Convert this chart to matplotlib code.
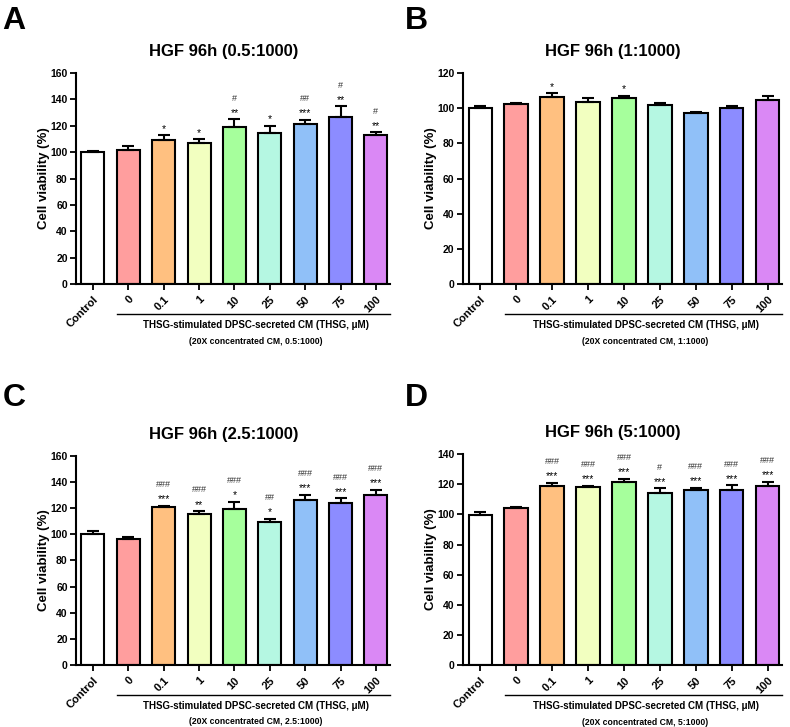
import matplotlib.pyplot as plt
import matplotlib.transforms as mtransforms

plt.rcParams['font.family'] = ['Liberation Sans', 'DejaVu Sans']
plt.rcParams['font.weight'] = 'bold'

groups = ['Control', '0', '0.1', '1', '10', '25', '50', '75', '100']
colors = ['#FFFFFF', '#FF9E9E', '#FFC080', '#F2FFC0', '#A6FF9C',
          '#B5F7E2', '#90C0F8', '#8C8CFF', '#DA88F5']

# panel A: 0.5:1000
mean_a = [100, 101.5, 109.5, 107.3, 119, 114.5, 121.6, 127, 112.7]
err_a = [1.0, 3.0, 3.2, 2.6, 6.0, 5.5, 3.0, 7.8, 2.3]
star_a = ['', '', '*', '*', '**', '*', '***', '**', '**']
hash_a = ['', '', '', '', '#', '', '##', '#', '#']

# panel B: 1:1000
mean_b = [100, 102.6, 106.7, 103.6, 106, 101.7, 97.3, 100.1, 104.8]
err_b = [1.1, 0.6, 1.8, 2.1, 1.2, 1.3, 0.7, 1.0, 2.4]
star_b = ['', '', '*', '', '*', '', '', '', '']
hash_b = ['', '', '', '', '', '', '', '', '']

# panel C: 2.5:1000
mean_c = [100.2, 96.2, 120.9, 115.5, 119.3, 109.2, 126.5, 123.7, 130]
err_c = [2.6, 1.8, 1.0, 2.3, 5.6, 2.8, 3.8, 3.8, 4.0]
star_c = ['', '', '***', '**', '*', '*', '***', '***', '***']
hash_c = ['', '', '###', '###', '###', '##', '###', '###', '###']

# panel D: 5:1000
mean_d = [99.8, 104.5, 119.1, 118, 121.6, 114, 116.3, 116.3, 118.7]
err_d = [1.8, 0.5, 2.0, 0.9, 2.2, 3.4, 1.5, 3.1, 2.9]
star_d = ['', '', '***', '***', '***', '***', '***', '***', '***']
hash_d = ['', '', '###', '###', '###', '#', '###', '###', '###']

panels = [
    ('A', 'HGF 96h (0.5:1000)', '0.5:1000', mean_a, err_a, star_a, hash_a, 160,
     [0.0962, 0.6094, 0.3975, 0.290], (0.003, 0.971)),
    ('B', 'HGF 96h (1:1000)', '1:1000', mean_b, err_b, star_b, hash_b, 120,
     [0.586, 0.6094, 0.404, 0.290], (0.512, 0.971)),
    ('C', 'HGF 96h (2.5:1000)', '2.5:1000', mean_c, err_c, star_c, hash_c, 160,
     [0.0962, 0.0853, 0.3975, 0.2875], (0.003, 0.4525)),
    ('D', 'HGF 96h (5:1000)', '5:1000', mean_d, err_d, star_d, hash_d, 140,
     [0.586, 0.0853, 0.404, 0.290], (0.512, 0.4525)),
]

fig = plt.figure(figsize=(7.9, 7.27), dpi=100)

for letter, title, ratio, mean, err, stars, hashes, ymax, pos, lpos in panels:
    ax = fig.add_axes(pos)
    x = list(range(len(groups)))
    ax.bar(x, mean, width=0.65, color=colors, edgecolor='black', linewidth=1.5, zorder=2)
    ax.errorbar(x, mean, yerr=[[0] * len(err), err], fmt='none', ecolor='black',
                elinewidth=1.5, capsize=4.5, capthick=1.5, zorder=3)
    for xi, m, e, s, h in zip(x, mean, err, stars, hashes):
        top = m + e
        if s:
            ax.annotate(s, (xi, top), xytext=(0, 1), textcoords='offset points',
                        ha='center', va='bottom', fontsize=7.5, fontweight='normal')
        if h:
            ax.annotate(h, (xi, top), xytext=(0, 12), textcoords='offset points',
                        ha='center', va='bottom', fontsize=6.5, fontweight='normal',
                        color='#333333')
    ax.set_xlim(-0.48, 8.4)
    ax.set_ylim(0, ymax)
    ax.set_yticks(range(0, ymax + 1, 20))
    ax.tick_params(axis='y', labelsize=7.5, width=1.3, length=4, pad=2)
    ax.tick_params(axis='x', labelsize=8, width=1.3, length=4)
    ax.set_xticks(x)
    ax.set_xticklabels(groups, rotation=45, ha='right', rotation_mode='anchor')
    for sp in ['top', 'right']:
        ax.spines[sp].set_visible(False)
    for sp in ['left', 'bottom']:
        ax.spines[sp].set_linewidth(1.5)
    ax.set_ylabel('Cell viability (%)', fontsize=9.5, fontweight='bold', labelpad=0)
    ax.set_title(title, fontsize=12, fontweight='bold', pad=12, x=0.47)

    trans = mtransforms.blended_transform_factory(ax.transData, ax.transAxes)
    ax.plot([0.68, 8.4], [-0.142, -0.142], color='black', lw=1.0,
            transform=trans, clip_on=False)
    ax.text(4.6, -0.195, 'THSG-stimulated DPSC-secreted CM (THSG, \u03bcM)',
            transform=trans, ha='center', va='center', fontsize=7, fontweight='bold')
    ax.text(4.6, -0.272, '(20X concentrated CM, ' + ratio + ')',
            transform=trans, ha='center', va='center', fontsize=6.2, fontweight='bold')

    fig.text(lpos[0], lpos[1], letter, fontsize=23, fontweight='bold',
             ha='left', va='center')

fig.savefig('out.png', dpi=100)
